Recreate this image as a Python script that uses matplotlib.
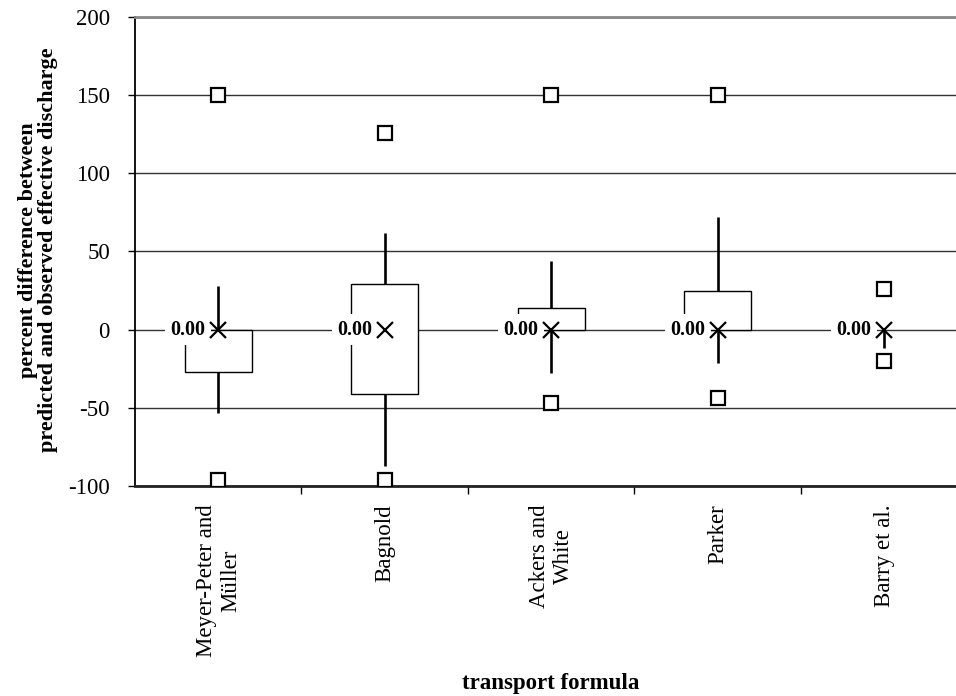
import matplotlib.pyplot as plt

plt.rcParams['font.family'] = ['Liberation Serif', 'DejaVu Serif']
plt.rcParams['axes.unicode_minus'] = False

# data
formulas = ["Meyer-Peter and\nMüller", "Bagnold", "Ackers and\nWhite", "Parker", "Barry et al."]
box_top = [0, 29, 14, 25, 0]
box_bottom = [-27, -41, 0, 0, 0]
whisker_high = [28, 62, 44, 72, 0]
whisker_low = [-53, -87, -28, -21, -12]
mean_diff = [0.00, 0.00, 0.00, 0.00, 0.00]
max_diff = [150, 126, 150, 150, 26]
min_diff = [-96, -96, -47, -44, -20]

fig = plt.figure(figsize=(9.56, 6.96), dpi=100)
ax = fig.add_axes([0.1412, 0.3017, 0.8708, 0.6739])

pos = list(range(len(formulas)))

# whiskers
ax.vlines(pos, whisker_low, whisker_high, color='black', lw=1.9, zorder=2)

# boxes (white fill hides grid and whisker inside)
for i in pos:
    h = box_top[i] - box_bottom[i]
    if h > 0:
        ax.bar(i, h, bottom=box_bottom[i], width=0.4, facecolor='white',
               edgecolor='black', linewidth=1.0, zorder=3)

# mean markers with value labels
ax.plot(pos, mean_diff, linestyle='none', marker='x', markersize=11,
        markeredgewidth=1.6, color='black', zorder=5)
for i in pos:
    ax.annotate(f"{mean_diff[i]:.2f}", (i, mean_diff[i]), xytext=(-9, 0),
                textcoords='offset points', ha='right', va='center',
                fontsize=14.5, fontweight='bold', zorder=4,
                bbox=dict(facecolor='white', edgecolor='none', pad=4))

# max / min squares
ax.plot(pos, max_diff, linestyle='none', marker='s', markersize=9.5,
        markerfacecolor='white', markeredgecolor='black', markeredgewidth=1.6, zorder=6)
ax.plot(pos, min_diff, linestyle='none', marker='s', markersize=9.5,
        markerfacecolor='white', markeredgecolor='black', markeredgewidth=1.6, zorder=6)

ax.set_xlim(-0.5, 4.5)
ax.set_ylim(-100, 200)

ax.set_yticks(range(-100, 201, 50))
ax.tick_params(axis='y', labelsize=16.5, pad=13, length=5, width=1, direction='out')
ax.yaxis.grid(True, color='#333333', lw=1)
ax.set_axisbelow(True)

ax.set_xticks([0.5, 1.5, 2.5, 3.5])
ax.set_xticklabels([])
ax.set_xticks(pos, minor=True)
ax.set_xticklabels(formulas, minor=True, rotation=90, fontsize=16.5)
for t in ax.get_xticklabels(minor=True):
    t.set_multialignment('center')
ax.tick_params(axis='x', which='major', length=6, width=1, direction='out')
ax.tick_params(axis='x', which='minor', length=0, pad=13)

ax.spines['right'].set_visible(False)
ax.spines['top'].set_color('#888888')
ax.spines['top'].set_linewidth(2)
ax.spines['bottom'].set_color('#222222')
ax.spines['bottom'].set_linewidth(2)
ax.spines['left'].set_linewidth(1.3)

fig.text(38 / 956, 1 - 250 / 696,
         "percent difference between\npredicted and observed effective discharge",
         rotation=90, ha='center', va='center', ma='center', linespacing=1.0,
         fontsize=16, fontweight='bold')
fig.text(551 / 956, 1 - 684 / 696, "transport formula", ha='center', va='center',
         fontsize=16.5, fontweight='bold')

fig.savefig('out.png', dpi=100)
